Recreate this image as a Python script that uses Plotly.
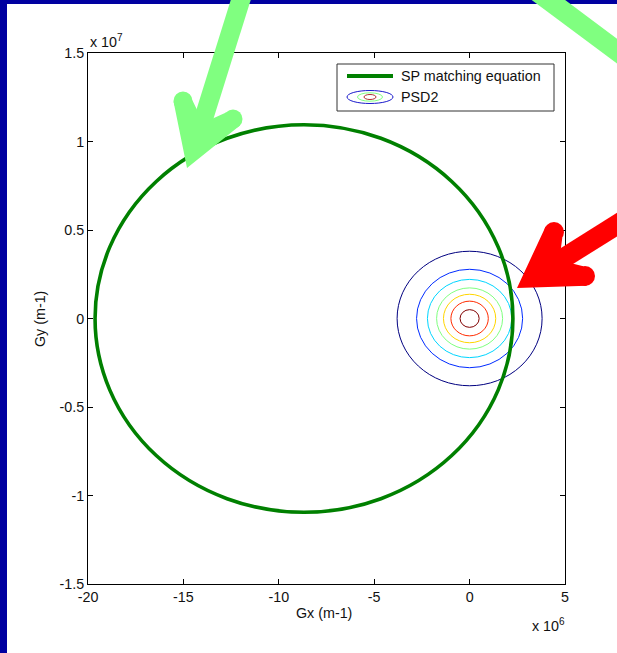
import math
import plotly.graph_objects as go

# ---- data -------------------------------------------------------------
x_tick_values = [-20, -15, -10, -5, 0, 5]          # x 10^6
x_tick_labels = ["-20", "-15", "-10", "-5", "0", "5"]
x_scale = 1e6
y_tick_values = [-1.5, -1, -0.5, 0, 0.5, 1, 1.5]    # x 10^7
y_tick_labels = ["-1.5", "-1", "-0.5", "0", "0.5", "1", "1.5"]
y_scale = 1e7

# SP matching equation: circle in the (Gx, Gy) plane
sp_center_x = -8.68e6
sp_center_y = 0.0
sp_radius = 1.095e7

# PSD2 iso-contours (centred on the origin), outermost to innermost
psd2_center = [0.0, 0.0]
psd2_radius = [3.80e6, 2.78e6, 2.21e6, 1.73e6, 1.37e6, 0.98e6, 0.50e6]

# ---- styles -----------------------------------------------------------
jet7 = ["#000080", "#002BFF", "#00D5FF", "#80FF80", "#FFD500", "#FF2B00", "#800000"]
FONT = "Liberation Sans, Arial, Helvetica, sans-serif"
FS = 14.3
TXT = "#111111"
NAVY = "#0000A0"
ARROW_GREEN = "#80FF80"
ARROW_RED = "#FF0000"

W_FIG, H_FIG = 617, 653
L, T, W, H = 88, 53, 477, 531   # plot area in pixels


def px(x):
    return (x - L) / W


def py(y):
    return (T + H - y) / H


fig = go.Figure()
fig.add_trace(go.Scatter(x=[], y=[], showlegend=False, hoverinfo="skip"))

shapes = []

# PSD2 contour lines
for r, c in zip(psd2_radius, jet7):
    shapes.append(dict(type="circle", xref="x", yref="y",
                       x0=psd2_center[0] - r, x1=psd2_center[0] + r,
                       y0=psd2_center[1] - r, y1=psd2_center[1] + r,
                       line=dict(color=c, width=1), layer="above"))

# SP matching equation circle
shapes.append(dict(type="circle", xref="x", yref="y",
                   x0=sp_center_x - sp_radius, x1=sp_center_x + sp_radius,
                   y0=sp_center_y - sp_radius, y1=sp_center_y + sp_radius,
                   line=dict(color="#008000", width=3.6), layer="above"))

# legend box
shapes.append(dict(type="rect", xref="paper", yref="paper",
                   x0=px(337), x1=px(554), y0=py(111), y1=py(64),
                   line=dict(color="#333333", width=1), fillcolor="white"))
shapes.append(dict(type="line", xref="paper", yref="paper",
                   x0=px(347), x1=px(393), y0=py(76), y1=py(76),
                   line=dict(color="#008000", width=4)))
for rx, ry, c in [(23, 6.5, "#1a1acc"), (12.5, 4.2, "#80FF80"), (6, 2.5, "#b03030")]:
    shapes.append(dict(type="circle", xref="paper", yref="paper",
                       x0=px(370 - rx), x1=px(370 + rx),
                       y0=py(97 + ry), y1=py(97 - ry),
                       line=dict(color=c, width=1)))

# navy frame strips
shapes.append(dict(type="rect", xref="paper", yref="paper",
                   x0=px(-5), x1=px(7), y0=py(H_FIG + 10), y1=py(-5),
                   fillcolor=NAVY, line=dict(width=0)))
shapes.append(dict(type="rect", xref="paper", yref="paper",
                   x0=px(-5), x1=px(W_FIG + 5), y0=py(4), y1=py(-5),
                   fillcolor=NAVY, line=dict(width=0)))


# callout arrows (pixel geometry)
def seg(p0, p1, color, w):
    return dict(type="line", xref="paper", yref="paper",
                x0=px(p0[0]), y0=py(p0[1]), x1=px(p1[0]), y1=py(p1[1]),
                line=dict(color=color, width=w))


def dot(c, d, color):
    return dict(type="circle", xref="paper", yref="paper",
                x0=px(c[0] - d / 2), x1=px(c[0] + d / 2),
                y0=py(c[1] + d / 2), y1=py(c[1] - d / 2),
                fillcolor=color, line=dict(width=0))


def unit(dx, dy):
    n = math.hypot(dx, dy)
    return dx / n, dy / n


def arrow(tip, a, b, tail, color, w):
    """Thick open arrowhead with a sharp mitred tip and rounded barb ends."""
    h = w / 2
    ux, uy = unit(a[0] - tip[0], a[1] - tip[1])
    vx, vy = unit(b[0] - tip[0], b[1] - tip[1])
    half = math.acos(ux * vx + uy * vy) / 2
    bx, by = unit(ux + vx, uy + vy)
    off = h / math.sin(half)
    v = (tip[0] + bx * off, tip[1] + by * off)        # centre-line vertex
    inner = (v[0] + bx * off, v[1] + by * off)         # inner corner
    # normals pointing away from the other barb
    na = (-uy, ux)
    if na[0] * vx + na[1] * vy > 0:
        na = (uy, -ux)
    nb = (-vy, vx)
    if nb[0] * ux + nb[1] * uy > 0:
        nb = (vy, -vx)
    pts = [tip,
           (a[0] + na[0] * h, a[1] + na[1] * h),
           (a[0] - na[0] * h, a[1] - na[1] * h),
           inner,
           (b[0] - nb[0] * h, b[1] - nb[1] * h),
           (b[0] + nb[0] * h, b[1] + nb[1] * h)]
    path = "M " + " L ".join("{:.5f} {:.5f}".format(px(p[0]), py(p[1])) for p in pts) + " Z"
    return [
        seg(v, tail, color, w),
        dict(type="path", xref="paper", yref="paper", path=path,
             fillcolor=color, line=dict(width=0)),
        dot(a, w, color),
        dot(b, w, color),
    ]


shapes += arrow((187, 168), (183, 101), (233, 119), (247, -20), ARROW_GREEN, 19)
shapes.append(seg((535, -10), (645, 72), ARROW_GREEN, 20))
shapes += arrow((517, 288), (554, 232), (585, 276), (645, 207), ARROW_RED, 20)

annotations = [
    dict(text="SP matching equation", x=px(399), y=py(76), xref="paper", yref="paper",
         xanchor="left", yanchor="middle", showarrow=False,
         font=dict(family=FONT, size=FS, color=TXT)),
    dict(text="PSD2", x=px(399), y=py(97), xref="paper", yref="paper",
         xanchor="left", yanchor="middle", showarrow=False,
         font=dict(family=FONT, size=FS, color=TXT)),
    dict(text="Gx (m-1)", x=px(324), y=py(613), xref="paper", yref="paper",
         xanchor="center", yanchor="middle", showarrow=False,
         font=dict(family=FONT, size=FS, color=TXT)),
    dict(text="Gy (m-1)", x=px(40), y=py(319), xref="paper", yref="paper",
         xanchor="center", yanchor="middle", showarrow=False, textangle=-90,
         font=dict(family=FONT, size=FS, color=TXT)),
    dict(text="x 10<sup>6</sup>", x=px(530), y=py(625), xref="paper", yref="paper",
         xanchor="left", yanchor="middle", showarrow=False,
         font=dict(family=FONT, size=FS, color=TXT)),
    dict(text="x 10<sup>7</sup>", x=px(88), y=py(41), xref="paper", yref="paper",
         xanchor="left", yanchor="middle", showarrow=False,
         font=dict(family=FONT, size=FS, color=TXT)),
]

axis_common = dict(showline=True, linecolor="black", linewidth=1, mirror="ticks",
                   ticks="inside", ticklen=5, tickwidth=1, tickcolor="black",
                   showgrid=False, zeroline=False,
                   tickfont=dict(family=FONT, size=FS, color=TXT))

fig.update_layout(
    width=W_FIG, height=H_FIG,
    margin=dict(l=L, r=W_FIG - L - W, t=T, b=H_FIG - T - H, pad=0),
    paper_bgcolor="white", plot_bgcolor="white",
    showlegend=False,
    xaxis=dict(range=[x_tick_values[0] * x_scale, x_tick_values[-1] * x_scale],
               tickvals=[v * x_scale for v in x_tick_values], ticktext=x_tick_labels,
               **axis_common),
    yaxis=dict(range=[y_tick_values[0] * y_scale, y_tick_values[-1] * y_scale],
               tickvals=[v * y_scale for v in y_tick_values], ticktext=y_tick_labels,
               **axis_common),
    shapes=shapes,
    annotations=annotations,
)

fig.write_html("out.html")
